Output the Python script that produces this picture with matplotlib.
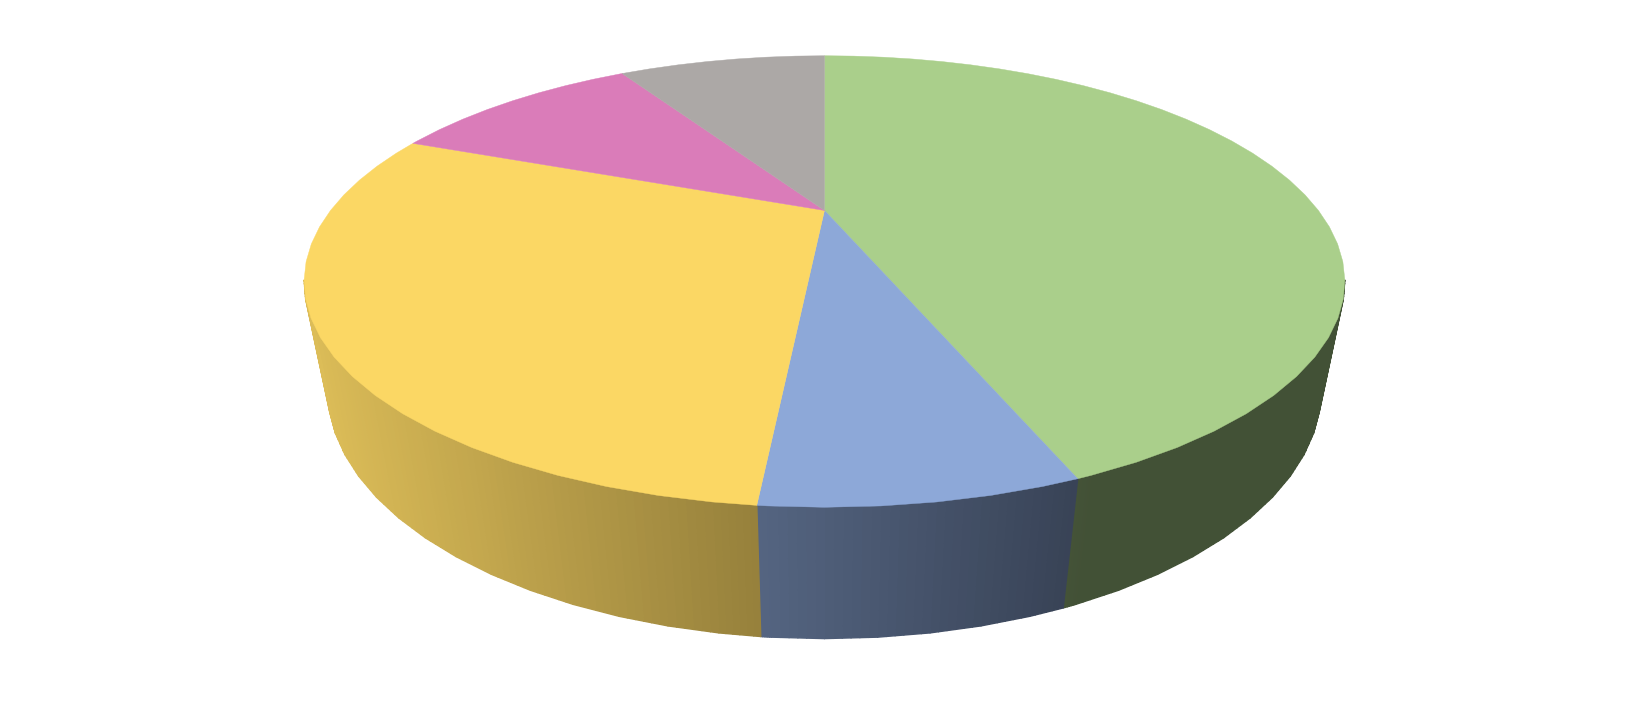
import numpy as np
import matplotlib
matplotlib.use("Agg")
import matplotlib.pyplot as plt
from matplotlib.collections import PolyCollection
from matplotlib.patches import Polygon

# Slice shares (percent), clockwise from 12 o'clock
labels = ["A", "B", "C", "D", "E"]
values = [44.1, 7.4, 29.5, 10.3, 8.7]
colors = ["#aacf8b", "#8da8d8", "#fbd764", "#da7cb9", "#aca8a6"]

S = 1650 / 1568
CX, CY = 783.5 * S, 200.0 * S   # projected pie centre
A, B = 469.4 * S, 193.3 * S     # horizontal / depth radius
K = 0.3147                      # depth perspective
M = 0.04295                     # height perspective
C = 103.0 * S                   # wall height
STEP = 4.5                      # rim facet, degrees
SUB = 6                         # gradient strips per facet


def project(theta_deg, z=0.0, r=1.0):
    t = np.radians(theta_deg)
    x, y = r * np.sin(t), r * np.cos(t)
    w = 1 + K * y + M * z
    return CX + A * x / w, CY + (-B * y + C * z) / w


def shade(xpix):
    return np.clip(0.87 - 0.00065 * (xpix / S - 300), 0.39, 0.88)


fig = plt.figure(figsize=(16.5, 7.01), dpi=100, facecolor="white")
ax = fig.add_axes([0, 0, 1, 1])
ax.set_xlim(0, 1650)
ax.set_ylim(701, 0)
ax.axis("off")

edges = np.concatenate([[0], np.cumsum(values)]) / np.sum(values) * 360

polys, fcs = [], []
tops = []
for i, col in enumerate(colors):
    a0, a1 = edges[i], edges[i + 1]
    inner = np.arange(np.ceil(a0 / STEP) * STEP, a1, STEP)
    ang = np.unique(np.concatenate([[a0], inner, [a1]]))
    tx, ty = project(ang, 0)
    bx, by = project(ang, 1)
    tops.append((tx, ty, col))
    base = np.array(matplotlib.colors.to_rgb(col))
    for j in range(len(ang) - 1):
        # the far part of the wall sits behind the top face
        if np.cos(np.radians(0.5 * (ang[j] + ang[j + 1]))) > -0.30:
            continue
        fr = np.linspace(0, 1, SUB + 1)
        sx0 = tx[j] + (tx[j + 1] - tx[j]) * fr
        sy0 = ty[j] + (ty[j + 1] - ty[j]) * fr
        sx1 = bx[j] + (bx[j + 1] - bx[j]) * fr
        sy1 = by[j] + (by[j + 1] - by[j]) * fr
        for q in range(SUB):
            polys.append([(sx0[q], sy0[q]), (sx0[q + 1], sy0[q + 1]),
                          (sx1[q + 1], sy1[q + 1]), (sx1[q], sy1[q])])
            fcs.append(base * shade(0.5 * (sx0[q] + sx0[q + 1])))

walls = PolyCollection(polys, facecolors=fcs, edgecolors=fcs,
                       linewidths=1.0, zorder=1)
ax.add_collection(walls)

cx0, cy0 = project(0.0, 0, 0.0)
for tx, ty, col in tops:
    pts = np.column_stack([np.r_[cx0, tx], np.r_[cy0, ty]])
    ax.add_patch(Polygon(pts, closed=True, facecolor=col, edgecolor=col,
                         linewidth=0.3, zorder=2))

fig.savefig("out.png", dpi=100, facecolor="white")
